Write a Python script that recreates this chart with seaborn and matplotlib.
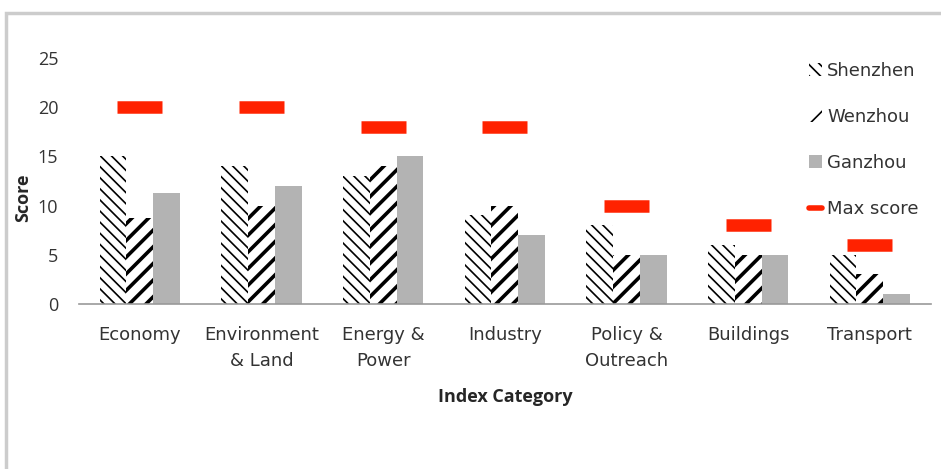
import pandas as pd
import seaborn as sns
import matplotlib.pyplot as plt
from matplotlib.patches import Patch, Rectangle
from matplotlib.lines import Line2D

# values
categories = ['Economy', 'Environment\n& Land', 'Energy &\nPower', 'Industry',
              'Policy &\nOutreach', 'Buildings', 'Transport']
shenzhen = [15, 14, 13, 9, 8, 6, 5]
wenzhou = [8.75, 10, 14, 10, 5, 5, 3]
ganzhou = [11.25, 12, 15, 7, 5, 5, 1]
max_score = [20, 20, 18, 18, 10, 8, 6]
cities = ['Shenzhen', 'Wenzhou', 'Ganzhou']

df = pd.DataFrame({'Category': categories * 3,
                   'City': [c for c in cities for _ in categories],
                   'Score': shenzhen + wenzhou + ganzhou})

sns.set_style('white')
plt.rcParams['font.family'] = ['DejaVu Sans']
plt.rcParams['hatch.linewidth'] = 1.2

fig = plt.figure(figsize=(9.41, 4.69), dpi=100)
ax = fig.add_axes([0.084, 0.352, 0.905, 0.524])

sns.barplot(df, x='Category', y='Score', hue='City', order=categories,
            hue_order=cities, palette=['white', 'white', '#b3b3b3'],
            width=0.66, ax=ax, legend=False)

hatches = {'Shenzhen': '\\\\\\', 'Wenzhou': '//', 'Ganzhou': ''}
hatch_lw = {'Shenzhen': 1.2, 'Wenzhou': 2.6, 'Ganzhou': 1.0}


def style_patch(p, city):
    p.set_hatch(hatches[city])
    p.set_edgecolor('black' if city != 'Ganzhou' else '#b3b3b3')
    p.set_linewidth(0)
    try:
        p.set_hatch_linewidth(hatch_lw[city])
    except AttributeError:
        pass


for cont, city in zip(ax.containers, cities):
    for bar in cont:
        style_patch(bar, city)

# max score markers
xs = range(len(categories))
ax.hlines(max_score, [x - 0.185 for x in xs], [x + 0.185 for x in xs],
          color='#ff2200', linewidth=9, capstyle='butt', zorder=3)

ax.set_ylim(0, 25)
ax.set_xlim(-0.5, len(categories) - 0.5)
ax.set_yticks([0, 5, 10, 15, 20, 25])
for s in ['top', 'right', 'left']:
    ax.spines[s].set_visible(False)
ax.spines['bottom'].set_color('#999999')
ax.spines['bottom'].set_linewidth(1.2)
ax.tick_params(axis='y', length=0, pad=15, labelcolor='#333333')
ax.tick_params(axis='x', length=0, pad=16, labelsize=13, labelcolor='#333333')
for lab in ax.get_yticklabels():
    lab.set_fontfamily('Open Sans')
    lab.set_fontsize(13)
for lab in ax.get_xticklabels():
    lab.set_linespacing(1.55)
ax.set_xlabel('Index Category', fontsize=13, fontweight='bold',
              family='Open Sans', labelpad=13)
ax.set_ylabel('Score', fontsize=13, fontweight='bold', family='Open Sans')
ax.yaxis.set_label_coords(-0.055, 0.43)

handles = []
for city, fc in zip(cities, ['white', 'white', '#b3b3b3']):
    h = Patch(facecolor=fc)
    style_patch(h, city)
    handles.append(h)
handles.append(Line2D([0], [0], color='#ff2200', linewidth=4))
ax.legend(handles, cities + ['Max score'], loc='upper left',
          bbox_to_anchor=(0.838, 1.05), frameon=False, fontsize=13,
          labelspacing=1.55, handlelength=0.75, handletextpad=0.25,
          labelcolor='#333333')

# chart frame
fig.patches.append(Rectangle((6 / 941, -0.1), 1.2, 1.1 - 13 / 469,
                             transform=fig.transFigure, fill=False,
                             edgecolor='#cccccc', linewidth=2.5))

fig.savefig('out.png', dpi=100)
